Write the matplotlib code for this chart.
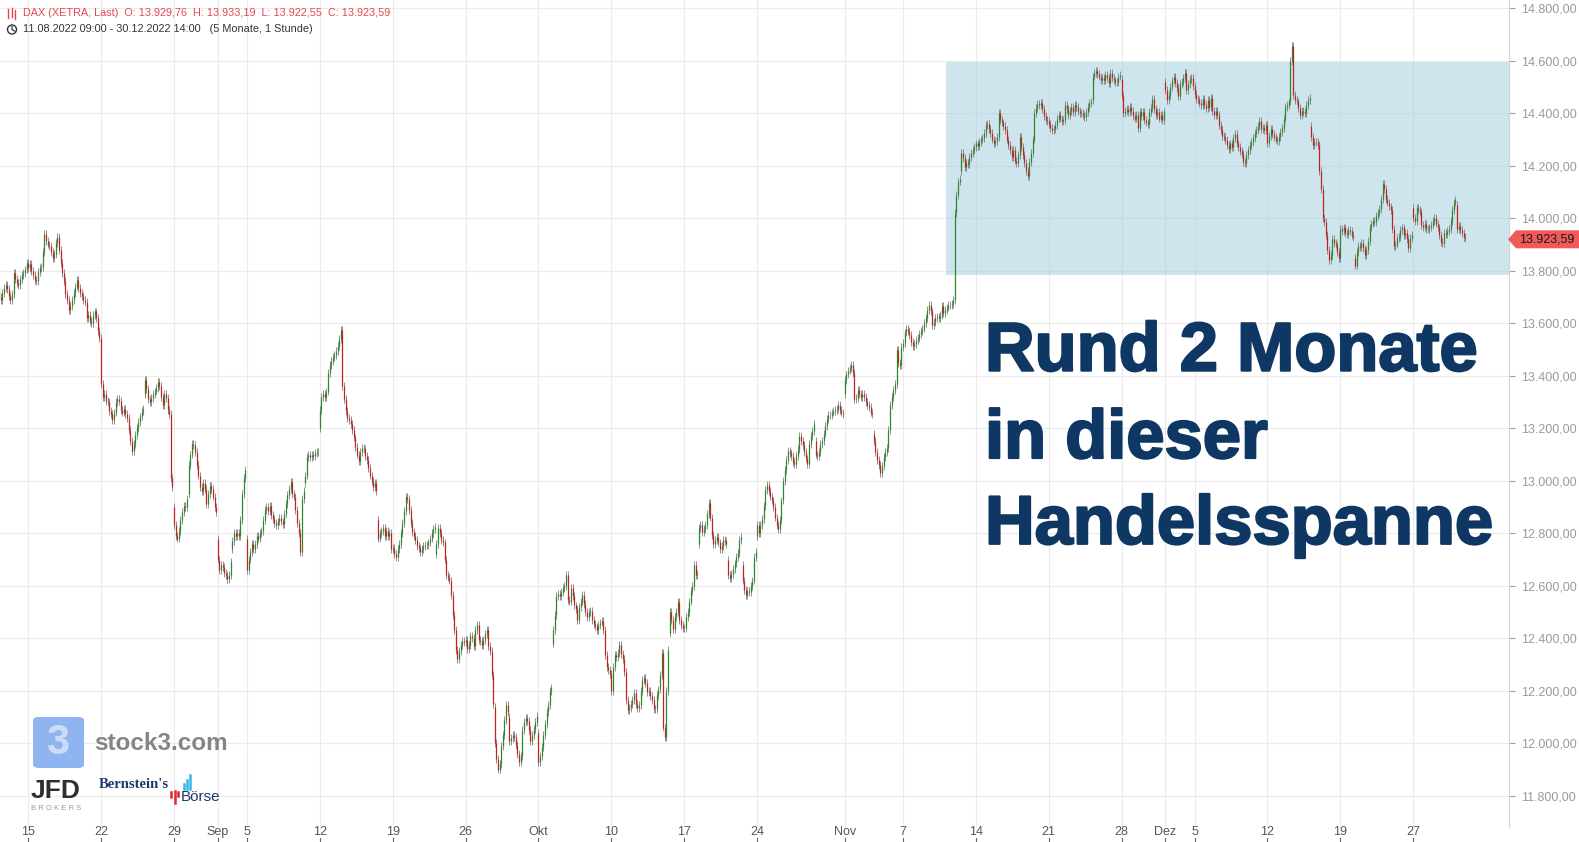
# DAX hourly candles Aug-Dec 2022 with the Nov-Dec trading range highlighted
import numpy as np
import matplotlib.pyplot as plt
import matplotlib.patheffects as pe
from matplotlib.patches import Rectangle, Polygon, FancyBboxPatch, Circle
from matplotlib.lines import Line2D
from matplotlib.transforms import blended_transform_factory, IdentityTransform

plt.rcParams['font.family'] = ['Liberation Sans', 'DejaVu Sans']

# Hourly closes (XETRA 09:00-17:00 -> 9 bars a day), one list per trading week
aug08 = [13700, 13690, 13715, 13735, 13745, 13730, 13705, 13690, 13710,
         13790, 13770, 13755, 13745, 13770, 13785, 13790, 13805, 13830]
aug15 = [13810, 13825, 13800, 13785, 13765, 13760, 13795, 13810, 13815,
         13870, 13940, 13915, 13900, 13895, 13870, 13850, 13865, 13905,
         13930, 13880, 13830, 13790, 13760, 13710, 13690, 13650, 13665,
         13690, 13715, 13740, 13765, 13735, 13715, 13705, 13690, 13680,
         13620, 13630, 13610, 13600, 13630, 13645, 13620, 13570, 13545]
aug22 = [13370, 13320, 13330, 13305, 13300, 13265, 13255, 13230, 13260,
         13300, 13310, 13305, 13270, 13260, 13275, 13255, 13240, 13195,
         13150, 13115, 13140, 13175, 13200, 13225, 13245, 13265, 13275,
         13385, 13350, 13310, 13300, 13315, 13330, 13340, 13355, 13375,
         13360, 13320, 13290, 13330, 13315, 13270, 13255, 13010, 12975]
aug29 = [12830, 12790, 12780, 12810, 12850, 12880, 12905, 12900, 12930,
         13060, 13100, 13140, 13135, 13110, 13060, 13020, 12975, 12960,
         12990, 12970, 12910, 12950, 12980, 12970, 12940, 12900, 12880,
         12700, 12660, 12680, 12670, 12650, 12640, 12625, 12640, 12690,
         12770, 12800, 12790, 12800, 12790, 12850, 12950, 13010, 13040]
sep05 = [12660, 12700, 12730, 12760, 12740, 12760, 12790, 12780, 12800,
         12810, 12850, 12890, 12900, 12885, 12905, 12870, 12855, 12840,
         12830, 12845, 12860, 12845, 12835, 12875, 12910, 12945, 12970,
         12995, 12950, 12940, 12890, 12840, 12800, 12730, 12930, 12960,
         13020, 13090, 13100, 13090, 13100, 13095, 13105, 13110, 13110]
sep12 = [13270, 13320, 13330, 13320, 13340, 13410, 13440, 13455, 13470,
         13480, 13495, 13515, 13540, 13575, 13360, 13310, 13265, 13240,
         13230, 13215, 13195, 13165, 13130, 13100, 13075, 13110, 13125,
         13120, 13095, 13080, 13050, 13020, 13000, 12975, 12990, 12960,
         12780, 12800, 12810, 12820, 12790, 12810, 12790, 12800, 12740]
sep19 = [12745, 12720, 12710, 12740, 12760, 12800, 12840, 12885, 12940,
         12930, 12890, 12840, 12805, 12790, 12775, 12750, 12745, 12730,
         12740, 12750, 12755, 12755, 12765, 12780, 12800, 12815, 12825,
         12760, 12820, 12800, 12775, 12765, 12700, 12640, 12635, 12620,
         12565, 12490, 12430, 12355, 12320, 12350, 12375, 12390, 12385]
sep26 = [12395, 12360, 12375, 12410, 12400, 12370, 12430, 12450, 12395,
         12390, 12375, 12395, 12415, 12430, 12370, 12350, 12260, 12150,
         12000, 11940, 11900, 11920, 11990, 12030, 12090, 12145, 12120,
         12010, 12020, 12030, 12025, 11995, 11960, 11930, 11950, 12050,
         12080, 12095, 12085, 12050, 12010, 12030, 12055, 12080, 12105]
oct03 = [11930, 11950, 11985, 12030, 12075, 12120, 12145, 12200, 12210,
         12430, 12490, 12560, 12570, 12560, 12575, 12590, 12600, 12640,
         12545, 12540, 12590, 12560, 12525, 12510, 12470, 12520, 12540,
         12565, 12530, 12500, 12480, 12500, 12505, 12470, 12455, 12445,
         12430, 12450, 12460, 12465, 12430, 12335, 12290, 12280, 12265]
oct10 = [12200, 12290, 12335, 12330, 12345, 12375, 12340, 12320, 12270,
         12165, 12125, 12135, 12150, 12165, 12190, 12150, 12135, 12145,
         12200, 12240, 12250, 12230, 12195, 12200, 12180, 12165, 12130,
         12130, 12185, 12205, 12260, 12345, 12060, 12025, 12200, 12355,
         12500, 12470, 12435, 12480, 12500, 12540, 12470, 12450, 12440]
oct17 = [12440, 12480, 12500, 12540, 12580, 12600, 12680, 12640, 12645,
         12820, 12830, 12805, 12815, 12830, 12875, 12915, 12860, 12795,
         12760, 12775, 12785, 12765, 12740, 12750, 12775, 12770, 12760,
         12640, 12630, 12645, 12665, 12685, 12710, 12725, 12775, 12785,
         12620, 12585, 12565, 12580, 12575, 12600, 12620, 12710, 12730]
oct24 = [12830, 12800, 12830, 12855, 12905, 12965, 12985, 12960, 12940,
         12925, 12900, 12860, 12830, 12815, 12850, 12925, 13000, 13040,
         13080, 13115, 13105, 13095, 13070, 13065, 13095, 13120, 13170,
         13150, 13135, 13110, 13085, 13065, 13140, 13170, 13190, 13215,
         13100, 13095, 13110, 13140, 13150, 13180, 13210, 13235, 13250]
oct31 = [13250, 13260, 13265, 13270, 13275, 13290, 13270, 13260, 13255,
         13385, 13405, 13420, 13430, 13440, 13410, 13310, 13315, 13345,
         13330, 13320, 13330, 13320, 13300, 13290, 13280, 13260, 13255,
         13150, 13110, 13080, 13060, 13030, 13055, 13090, 13110, 13125,
         13195, 13290, 13320, 13345, 13370, 13500, 13450, 13440, 13510]
nov07 = [13525, 13565, 13580, 13570, 13555, 13530, 13515, 13520, 13535,
         13545, 13560, 13570, 13580, 13600, 13620, 13650, 13670, 13645,
         13595, 13605, 13620, 13625, 13620, 13630, 13665, 13640, 13650,
         13660, 13670, 13670, 13675, 13690, 14020, 14090, 14140, 14150,
         14250, 14230, 14195, 14210, 14205, 14235, 14250, 14260, 14270]
nov14 = [14285, 14275, 14290, 14300, 14305, 14325, 14355, 14360, 14340,
         14325, 14300, 14285, 14295, 14310, 14400, 14375, 14365, 14350,
         14335, 14300, 14280, 14260, 14235, 14260, 14220, 14210, 14240,
         14310, 14270, 14240, 14210, 14180, 14160, 14215, 14250, 14300,
         14400, 14420, 14435, 14430, 14440, 14415, 14390, 14375, 14370]
nov21 = [14360, 14345, 14335, 14340, 14355, 14380, 14395, 14380, 14370,
         14375, 14430, 14415, 14395, 14410, 14425, 14405, 14430, 14425,
         14410, 14400, 14400, 14395, 14385, 14405, 14425, 14440, 14445,
         14540, 14555, 14560, 14550, 14540, 14525, 14535, 14525, 14545,
         14535, 14515, 14555, 14535, 14525, 14520, 14520, 14540, 14545]
nov28 = [14465, 14400, 14410, 14415, 14405, 14425, 14410, 14390, 14380,
         14395, 14345, 14405, 14390, 14405, 14375, 14365, 14360, 14405,
         14420, 14455, 14415, 14395, 14405, 14380, 14395, 14375, 14405,
         14490, 14450, 14470, 14500, 14525, 14540, 14515, 14495, 14465,
         14510, 14520, 14535, 14555, 14490, 14510, 14530, 14535, 14505]
dec05 = [14475, 14455, 14450, 14440, 14430, 14455, 14430, 14420, 14450,
         14425, 14460, 14410, 14395, 14410, 14395, 14355, 14335, 14315,
         14310, 14298, 14280, 14265, 14285, 14270, 14305, 14320, 14285,
         14270, 14255, 14245, 14215, 14210, 14240, 14260, 14280, 14290,
         14305, 14325, 14335, 14350, 14370, 14340, 14345, 14335, 14355]
dec12 = [14285, 14315, 14340, 14320, 14310, 14300, 14295, 14310, 14330,
         14345, 14380, 14425, 14430, 14445, 14600, 14655, 14470, 14450,
         14445, 14420, 14395, 14410, 14405, 14400, 14430, 14450, 14460,
         14310, 14280, 14290, 14290, 14280, 14180, 14110, 14000, 13985,
         13935, 13880, 13840, 13860, 13920, 13905, 13900, 13870, 13850]
dec19 = [13960, 13950, 13965, 13945, 13940, 13955, 13950, 13935, 13930,
         13820, 13870, 13895, 13890, 13905, 13885, 13860, 13880, 13915,
         13965, 13980, 13990, 13985, 14010, 14020, 14035, 14075, 14130,
         14110, 14075, 14060, 14045, 14030, 13960, 13895, 13900, 13925,
         13930, 13955, 13965, 13935, 13945, 13920, 13885, 13925, 13935]
dec27 = [14000, 13990, 14040, 14030, 14025, 13975, 13965, 13980, 13960,
         13960, 13965, 13975, 13990, 14000, 13980, 13965, 13935, 13910,
         13905, 13945, 13940, 13950, 13960, 13990, 14030, 14060, 14070,
         13960, 13970, 13955, 13945, 13929.76, 13923.59]

first_open = 13740
# opening prices of days that opened away from the previous close
gap_days = [10, 12, 13, 15, 16, 17, 21, 22, 26, 30, 34, 35, 37, 38, 46, 48,
            50, 51, 52, 56, 58, 60, 66, 75, 77, 80, 90, 93, 97, 100]
gap_opens = [13330, 12900, 12950, 12780, 12740, 12780, 12990, 13200, 12850,
             12720, 12140, 12100, 12040, 12380, 12420, 12760, 12700, 12680,
             12790, 13150, 13330, 13180, 14180, 14450, 14530, 14520, 14350,
             13850, 14040, 14050]

tick_days = [2, 7, 12, 15, 17, 22, 27, 32, 37, 42, 47, 52, 58, 62, 67, 72,
             77, 80, 82, 87, 92, 97]
tick_labels = ['15', '22', '29', 'Sep', '5', '12', '19', '26', 'Okt', '10',
               '17', '24', 'Nov', '7', '14', '21', '28', 'Dez', '5', '12',
               '19', '27']
y_ticks = list(range(11800, 14801, 200))

last_ohlc = [13929.76, 13933.19, 13922.55, 13923.59]
range_low, range_high = 13785, 14595
range_start = 584.4  # bar index where the box starts (Nov 10 open)

bars_per_day = 9
W, H = 1579, 842


def de(v):
    s = f"{v:,.2f}"
    return s.replace(',', 'X').replace('.', ',').replace('X', '.')


closes = (aug08 + aug15 + aug22 + aug29 + sep05 + sep12 + sep19 + sep26 +
          oct03 + oct10 + oct17 + oct24 + oct31 + nov07 + nov14 + nov21 +
          nov28 + dec05 + dec12 + dec19 + dec27)
c = np.array(closes, dtype=float)
n = len(c)
o = np.empty(n)
o[0] = first_open
o[1:] = c[:-1]
for d, v in zip(gap_days, gap_opens):
    o[d * bars_per_day] = v
x = np.arange(n)
pad = 15
lo = np.minimum(o, c) - pad
hi = np.maximum(o, c) + pad

fig = plt.figure(figsize=(W / 100, H / 100), dpi=100)
fig.patch.set_facecolor('white')
ax = fig.add_axes([0, 1 - 827 / H, 1508.7 / W, 827 / H])
ax.set_xlim(0.59, 931.9)
ax.set_ylim(11681, 14831.6)

for v in y_ticks:
    ax.axhline(v, color='#ebebeb', lw=0.8, zorder=0)
for d in tick_days:
    ax.axvline(d * bars_per_day, color='#ebebeb', lw=0.8, zorder=0)

ax.add_patch(Rectangle((range_start, range_low), 1000, range_high - range_low,
                       facecolor='#a1cddd', alpha=0.5, edgecolor='none', zorder=1))

up = c >= o
ax.vlines(x, lo, hi, colors='#7d7d7d', lw=0.6, zorder=2)
ax.vlines(x[up], o[up], c[up], colors='#2a8a2a', lw=0.9, zorder=3)
ax.vlines(x[~up], o[~up], c[~up], colors='#c42020', lw=0.9, zorder=3)

for s in ['top', 'left', 'bottom']:
    ax.spines[s].set_visible(False)
ax.spines['right'].set_color('#d4d4d4')
ax.spines['right'].set_linewidth(0.8)
ax.set_xticks([])
ax.yaxis.tick_right()
ax.set_yticks(y_ticks)
ax.set_yticklabels([de(v) for v in y_ticks])
ax.tick_params(axis='y', length=4, color='#a0a0a0', labelcolor='#9a9a9a',
               labelsize=9, pad=5)

# x labels sit above small tick marks at the very bottom
trans = blended_transform_factory(ax.transData, fig.transFigure)
for d, lab in zip(tick_days, tick_labels):
    xi = d * bars_per_day
    ax.text(xi, 1 - 832 / H, lab, transform=trans, ha='center', va='center',
            fontsize=9, color='#555555', clip_on=False)
    ax.add_line(Line2D([xi, xi], [1 - 838 / H, 1 - 842 / H], transform=trans,
                       color='#666666', lw=0.8, clip_on=False))

# last price tag
tag_y = 239.3
pts = [(1508, tag_y), (1516, tag_y - 9), (W, tag_y - 9), (W, tag_y + 9), (1516, tag_y + 9)]
fig.add_artist(Polygon([(px / W, 1 - py / H) for px, py in pts], closed=True,
                       facecolor='#f25a5a', edgecolor='none', transform=fig.transFigure))
fig.text(1519 / W, 1 - tag_y / H, de(last_ohlc[3]), fontsize=9, color='#1a1a1a',
         va='center', ha='left')

# header
hdr = "DAX (XETRA, Last)  O: {}  H: {}  L: {}  C: {}".format(*[de(v) for v in last_ohlc])
fig.text(23.3 / W, 1 - 13.5 / H, hdr, fontsize=7.8, color='#e5484d', va='center')
fig.text(23.3 / W, 1 - 29.5 / H,
         "11.08.2022 09:00 - 30.12.2022 14:00   (5 Monate, 1 Stunde)",
         fontsize=7.8, color='#333333', va='center')
for px, y0, y1 in [(8, 9, 18), (11.5, 8, 17), (15, 10, 19)]:
    fig.add_artist(Line2D([px, px], [H - y0, H - y1], transform=IdentityTransform(),
                          color='#e5484d', lw=1.0))
fig.add_artist(Circle((12, H - 29.5), 4.5, transform=IdentityTransform(),
                      facecolor='none', edgecolor='#333333', lw=1.0))
fig.add_artist(Line2D([12, 12, 14.5], [H - 26.5, H - 29.5, H - 31], transform=IdentityTransform(),
                      color='#333333', lw=0.9))

# annotation
for txt, base in [("Rund 2 Monate", 370.6), ("in dieser", 458), ("Handelsspanne", 543.8)]:
    fig.text(985 / W, 1 - base / H, txt, fontsize=49.5, fontweight='bold',
             color='#0f3763', va='baseline', ha='left',
             path_effects=[pe.withStroke(linewidth=1.6, foreground='#0f3763')])

# watermark logos
fig.add_artist(FancyBboxPatch((33 / W, 1 - 768 / H), 51 / W, 51 / H,
                              boxstyle='round,pad=0,rounding_size=0.004',
                              transform=fig.transFigure, facecolor='#8fb5f0',
                              edgecolor='none'))
fig.text(58 / W, 1 - 743 / H, "3", fontsize=30, fontweight='bold', color='#cadcf8',
         ha='center', va='center')
fig.text(94 / W, 1 - 743 / H, "stock3.com", fontsize=17.5, fontweight='bold',
         color='#858585', ha='left', va='center')
fig.text(31 / W, 1 - 791 / H, "JFD", fontsize=19, fontweight='bold',
         color='#2e2e2e', ha='left', va='center')
fig.text(31 / W, 1 - 808 / H, "B R O K E R S", fontsize=5.5, color='#9a9a9a',
         ha='left', va='center')
fig.text(99 / W, 1 - 784 / H, "Bernstein's", fontsize=10.5, fontweight='bold',
         family=['Liberation Serif', 'DejaVu Serif'], color='#1b3a6b',
         ha='left', va='center')
fig.text(181 / W, 1 - 797 / H, "Börse", fontsize=11, color='#1b3a6b',
         ha='left', va='center')
for px, y0, y1, col in [(184, 784, 789, '#3bb7e8'), (187, 780, 789, '#3bb7e8'),
                        (190, 775, 789, '#3bb7e8'), (171, 792, 797, '#e3262e'),
                        (175, 791, 803, '#e3262e'), (178, 792, 796, '#e3262e')]:
    fig.add_artist(Line2D([px, px], [H - y0, H - y1], transform=IdentityTransform(),
                          color=col, lw=1.8))

fig.savefig('out.png', dpi=100)
